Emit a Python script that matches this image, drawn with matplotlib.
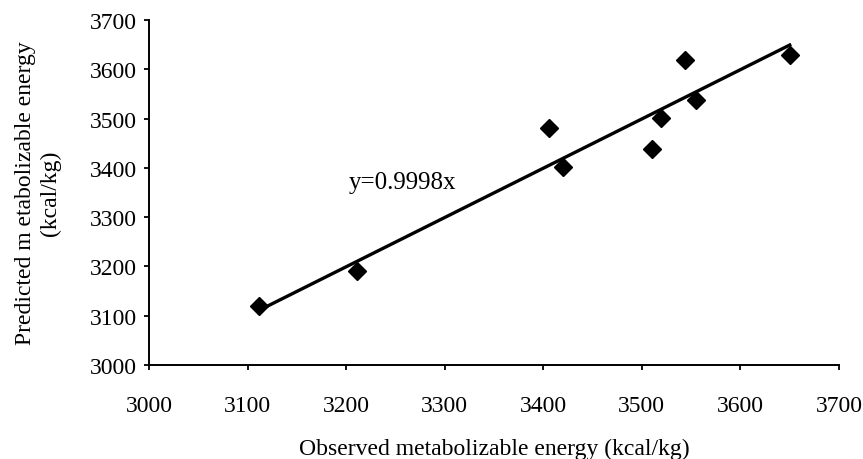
import numpy as np
import matplotlib
matplotlib.use("Agg")
import matplotlib.pyplot as plt

# observed vs predicted metabolizable energy (kcal/kg)
observed = [3112, 3211, 3406, 3420, 3510, 3519, 3544, 3555, 3650]
predicted = [3120, 3190, 3481, 3402, 3438, 3501, 3619, 3538, 3629]
slope = 0.9998
x_ticks = [3000, 3100, 3200, 3300, 3400, 3500, 3600, 3700]
y_ticks = [3000, 3100, 3200, 3300, 3400, 3500, 3600, 3700]

plt.rcParams["font.family"] = ["Liberation Serif", "DejaVu Serif"]

fig = plt.figure(figsize=(8.63, 4.60), dpi=100)
ax = fig.add_axes([0.1727, 0.2043, 0.7995, 0.75])

xfit = np.array([min(observed), max(observed)])
ax.plot(xfit, slope * xfit, "-", color="black", lw=2.4, zorder=2)
ax.plot(observed, predicted, "D", color="black", markersize=9.5, zorder=3)

ax.text(3203, 3371, f"y={slope}x", fontsize=18, ha="left", va="center")

ax.set_xlim(3000, 3700)
ax.set_ylim(3000, 3700)
ax.set_xticks(x_ticks)
ax.set_yticks(y_ticks)
ax.tick_params(direction="out", length=3.5, width=1.3, labelsize=17, colors="black")
ax.tick_params(axis="y", pad=5)
ax.tick_params(axis="x", pad=18)
for side in ("top", "right"):
    ax.spines[side].set_visible(False)
for side in ("left", "bottom"):
    ax.spines[side].set_linewidth(1.4)

ax.set_xlabel("Observed metabolizable energy (kcal/kg)", fontsize=17, labelpad=16)
ax.set_ylabel("Predicted m etabolizable energy\n(kcal/kg)", fontsize=17,
              linespacing=1.25)
ax.yaxis.set_label_coords(-0.127, 0.5)

fig.savefig("out.png", dpi=100)
